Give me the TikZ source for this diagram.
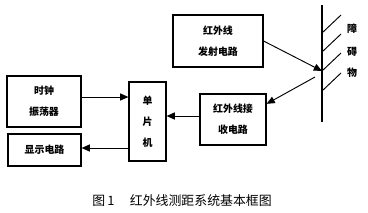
\documentclass[tikz,border=0pt]{standalone}
\usepackage{fontspec}
\newfontfamily\cjk{Noto Sans CJK SC}
\usepackage{tikz}
\usetikzlibrary{arrows.meta, positioning, calc}

\begin{document}
\begin{tikzpicture}[x=0.03cm, y=-0.03cm,
  every node/.style={font=\cjk\bfseries\fontsize{8.5}{18}\selectfont},
  box/.style={draw, line width=1pt, inner sep=0pt, align=center},
  arrow/.style={-{Triangle[length=7pt,width=6pt]}, line width=0.8pt}
]
  \useasboundingbox (0,0) rectangle (368,212);

  \node[box, minimum width=90*0.03cm, minimum height=52*0.03cm] (emit) at (218,41) {红外线\\发射电路};
  \node[box, minimum width=66*0.03cm, minimum height=51*0.03cm] (recv) at (233,119.5) {红外线接\\收电路};
  \node[box, minimum width=37*0.03cm, minimum height=79*0.03cm] (mcu) at (147.5,121.5) {单\\片\\机};
  \node[box, minimum width=74*0.03cm, minimum height=51*0.03cm] (clock) at (44,101.5) {时钟\\振荡器};
  \node[box, minimum width=73*0.03cm, minimum height=32*0.03cm] (disp) at (44.5,150) {显示电路};

  % obstacle
  \coordinate (wtop) at (322,5);
  \coordinate (wbot) at (322,122);
  \draw[line width=1.3pt] (wtop) -- (wbot);
  \foreach \y in {33,52,71,91}
    \draw[line width=0.8pt] (322,\y) -- ++(19,-18);
  \node (obs1) at (352,29) {障};
  \node (obs2) at (352,52) {碍};
  \node (obs3) at (352,73) {物};

  \coordinate (hit) at (322,71);
  \coordinate (refl) at (315,77);

  \draw[arrow] (emit.east) -- (hit);
  \draw[arrow] (refl) -- (recv.25);
  \draw[arrow] (clock.east |- 0,97) -- (mcu.west |- 0,97);
  \draw[arrow] (recv.west |- 0,116) -- (mcu.east |- 0,116);
  \draw[arrow] (mcu.west |- 0,148) -- (disp.east |- 0,148);

  \node[font=\cjk\fontsize{11}{13}\selectfont] (cap) at (182,201) {图\,1\hspace{1.2em}红外线测距系统基本框图};
\end{tikzpicture}
\end{document}
